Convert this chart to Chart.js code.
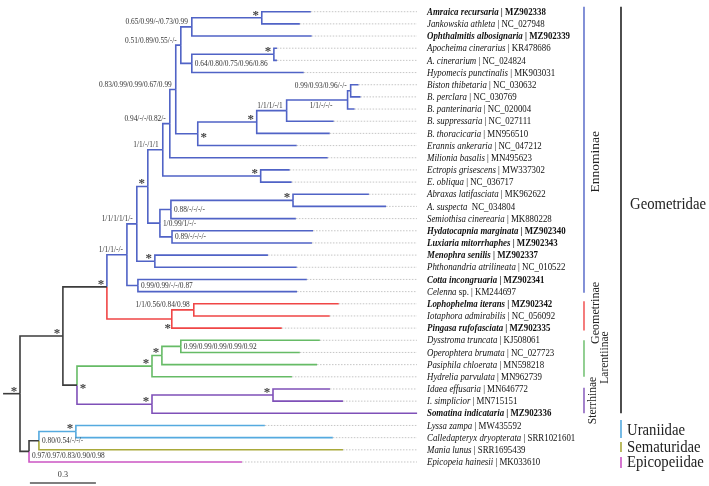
<!DOCTYPE html>
<html><head><meta charset="utf-8">
<script src="https://cdn.jsdelivr.net/npm/chart.js@4/dist/chart.umd.min.js"></script>
<style>html,body{margin:0;padding:0;background:#fff}#wrap{width:709px;height:486px;position:relative}</style>
</head><body><div id="wrap"><canvas id="c"></canvas></div>
<script>
// ---------- DATA ----------
const leafNames = [
  'Amraica recursaria','Jankowskia athleta','Ophthalmitis albosignaria','Apocheima cinerarius',
  'A. cinerarium','Hypomecis punctinalis','Biston thibetaria','B. perclara','B. panterinaria',
  'B. suppressaria','B. thoracicaria','Erannis ankeraria','Milionia basalis','Ectropis grisescens',
  'E. obliqua','Abraxas latifasciata','A. suspecta','Semiothisa cinerearia','Hydatocapnia marginata',
  'Luxiaria mitorrhaphes','Menophra senilis','Phthonandria atrilineata','Cotta incongruaria','Celenna',
  'Lophophelma iterans','Iotaphora admirabilis','Pingasa rufofasciata','Dysstroma truncata',
  'Operophtera brumata','Pasiphila chloerata','Hydrelia parvulata','Idaea effusaria','I. simplicior',
  'Somatina indicataria','Lyssa zampa','Calledapteryx dryopterata','Mania lunus','Epicopeia hainesii'];
const leafTails = [
  ' | MZ902338',' | NC_027948',' | MZ902339',' | KR478686',' | NC_024824',' | MK903031',' | NC_030632',
  ' | NC_030769',' | NC_020004',' | NC_027111',' | MN956510',' | NC_047212',' | MN495623',' | MW337302',
  ' | NC_036717',' | MK962622','  NC_034804',' | MK880228',' | MZ902340',' | MZ902343',' | MZ902337',
  ' | NC_010522',' | MZ902341',' sp. | KM244697',' | MZ902342',' | NC_056092',' | MZ902335',' | KJ508061',
  ' | NC_027723',' | MN598218',' | MN962739',' | MN646772',' | MN715151',' | MZ902336',' | MW435592',
  ' | SRR1021601',' | SRR1695439',' | MK033610'];
const leafBold = [1,0,1,0,0,0,0,0,0,0,0,0,0,0,0,0,0,0,1,1,1,0,1,0,1,0,1,0,0,0,0,0,0,1,0,0,0,0];

// tree with branch lengths (substitutions/site); leaves tK = row K, internal nodes named
const treeNewick =
  "(((((((((" +
  "(((t0:0.223,t1:0.173)namr:0.318,t2:0.545)n192a:0.050,((t3:0.014,t4:0.014)napo:0.373,t5:0.509)n192b:0.050)n181:0.023," +
  "(((((t6:0.036,t7:0.045)n351:0.014,t8:0.032)n348:0.277,t9:0.214)n287:0.136,t10:0.332)n257:0.268,t11:0.450)nbis:0.100" +
  ")n176:0.027,t12:0.718)n170:0.032,(t13:0.132,t14:0.141)nect:0.445)n163:0.068," +
  "(((t15:0.345,t16:0.423)nabr:0.555,t17:0.568)n171:0.050,(t18:0.641,t19:0.636)n172b:0.055)n160:0.055" +
  ")n148:0.050,(t20:0.514,t21:0.645)nmeno:0.082)n137:0.045,(t22:0.768,t23:0.723)ncot:0.050)n127:0.091," +
  "((t24:0.659,t25:0.618)n194:0.100,t26:0.500)n172:0.295)n107:0.200," +
  "((((t27:0.632,t28:0.541)n181g:0.086,t29:0.705)n162:0.045,t30:0.636)n152g:0.341,((t31:0.259,t32:0.318)nida:0.550,t33:1.205)n152p:0.341)n77:0.064" +
  ")n63:0.195," +
  "(((t34:0.859,t35:1.168)n76:0.168,t36:1.382)n39:0.045,t37:0.968)n29:0.041" +
  ")root:0.077;";

const supportNodes = ['namr','n192a','n181','napo','n192b','n176','n351','n348','n287','n257','nbis',
  'n170','n163','nect','n148','nabr','n171','n160','n172b','n137','nmeno','n127','ncot','n107',
  'n194','n172','n63','n77','n181g','n162','n152g','nida','n152p','root','n76','n39','n29'];
const supportTexts = ['*','0.65/0.99/-/0.73/0.99','0.51/0.89/0.55/-/-','*','0.64/0.80/0.75/0.96/0.86',
  '0.83/0.99/0.99/0.67/0.99','0.99/0.93/0.96/-/-','1/1/-/-/-','1/1/1/-/1','*','*',
  '0.94/-/-/0.82/-','1/1/-/1/1','*','*','*','0.88/-/-/-/-','1/0.99/1/-/-','0.89/-/-/-/-',
  '1/1/1/1/1/-','*','1/1/1/-/-','0.99/0.99/-/-/0.87','*',
  '1/1/0.56/0.84/0.98','*','*','*','0.99/0.99/0.99/0.99/0.92','*','*','*','*','*','*',
  '0.80/0.54/-/-/-','0.97/0.97/0.83/0.90/0.98'];

const subfamilyNames = ['Ennominae','Geometrinae','Larentiinae','Sterrhinae'];
const subfamilyFrom = [-0.4, 23.8, 27.0, 30.9];
const subfamilyTo = [23.1, 26.2, 30.0, 33.0];
const familyNames = ['Geometridae','Uraniidae','Sematuridae','Epicopeiidae'];
const familyFrom = [-0.4, 33.55, 35.36, 36.59];
const familyTo = [33.0, 35.03, 36.18, 37.5];
const scaleBarLength = 0.3;

// ---------- STYLE / LAYOUT ----------
const BLACK = '#3c3c3c';
const cladeColor = {n127:'#5063c6', n172:'#f04646', n152g:'#66bb66', n152p:'#7f50b8',
  n76:'#55aadf', t36:'#a9a93a', t37:'#cc55c4'};
const subfamilyColors = ['#5063c6','#f04646','#66bb66','#7f50b8'];
const familyColors = ['#222222','#55aadf','#a9a93a','#cc55c4'];
const placement = {n192b:'r', nbis:'r', n171:'r', n160:'r', n172b:'r', ncot:'r', n77:'r', n181g:'r',
  n39:'r', n29:'r', n348:'lb', n172:'lb'};
const extraOffset = {n348:[-11,0], n29:[0,4]};
const LEADER_END = 1.8045, LABEL_X = 1.85, SUB_BAR_X = 2.5636, FAM_BAR_X = 2.7318;
const SCALE_X0 = 0.045, SCALE_Y = 38.73;
const SERIF = "'Liberation Serif','Times New Roman',serif";

// ---------- BUILD TREE ----------
function parseNewick(s){
  let i = 0;
  function node(){
    const n = {children: []};
    if (s[i] === '('){
      i++; n.children.push(node());
      while (s[i] === ','){ i++; n.children.push(node()); }
      i++;
    }
    let name = '';
    while (i < s.length && !':,);'.includes(s[i])) name += s[i++];
    n.name = name.trim();
    n.len = 0;
    if (s[i] === ':'){ i++; let num=''; while (i < s.length && !',);'.includes(s[i])) num += s[i++]; n.len = parseFloat(num); }
    return n;
  }
  return node();
}
const root = parseNewick(treeNewick);
const nodesById = {};
(function layout(n, x, color){
  n.x = x; n.color = cladeColor[n.name] || color; nodesById[n.name] = n;
  if (n.children.length){
    n.children.forEach(c => layout(c, x + c.len, n.color));
    n.y = (n.children[0].y + n.children[n.children.length-1].y) / 2;
  } else {
    n.y = parseInt(n.name.slice(1), 10);
  }
})(root, 0, BLACK);

const datasets = [];
const leaves = [];
(function collect(n){ if (!n.children.length) leaves.push(n); n.children.forEach(collect); })(root);
// dotted leaders
leaves.forEach(l => {
  if (l.x < LEADER_END) datasets.push({data:[{x:l.x,y:l.y},{x:LEADER_END,y:l.y}], borderColor:'rgba(175,175,175,0.9)',
    borderWidth:0.8, borderDash:[1.5,1.5]});
});
// branches
datasets.push({data:[{x:-root.len,y:root.y},{x:0,y:root.y}], borderColor:BLACK, borderWidth:1.6});
(function branches(n){
  n.children.forEach(c => {
    datasets.push({data:[{x:n.x,y:n.y},{x:n.x,y:c.y},{x:c.x,y:c.y}], borderColor:c.color, borderWidth:1.6});
    branches(c);
  });
})(root);
// clade bars
subfamilyNames.forEach((nm,k) => datasets.push({data:[{x:SUB_BAR_X,y:subfamilyFrom[k]},{x:SUB_BAR_X,y:subfamilyTo[k]}],
  borderColor:subfamilyColors[k], borderWidth:1.4}));
familyNames.forEach((nm,k) => datasets.push({data:[{x:FAM_BAR_X,y:familyFrom[k]},{x:FAM_BAR_X,y:familyTo[k]}],
  borderColor:familyColors[k], borderWidth:1.6}));
// scale bar
datasets.push({data:[{x:SCALE_X0,y:SCALE_Y},{x:SCALE_X0+scaleBarLength,y:SCALE_Y}], borderColor:'#555', borderWidth:1.4});

datasets.forEach(d => Object.assign(d, {showLine:true, pointRadius:0, pointHoverRadius:0, tension:0, fill:false,
  borderCapStyle:'butt', borderJoinStyle:'miter'}));

function txt(ctx, t, x, y, font, color, align, sx){
  ctx.save(); ctx.font = font; ctx.fillStyle = color; ctx.textBaseline = 'middle'; ctx.textAlign = align;
  ctx.translate(x, y); ctx.scale(sx, 1); ctx.fillText(t, 0, 0); ctx.restore();
}

const textPlugin = {
  id: 'treeText',
  afterDatasetsDraw(chart){
    const ctx = chart.ctx, xs = chart.scales.x, ys = chart.scales.y;
    // leaf labels
    const lx = xs.getPixelForValue(LABEL_X), SX = 0.87;
    leafNames.forEach((nm, k) => {
      const y = ys.getPixelForValue(k) + 0.5;
      const b = leafBold[k] ? 'bold ' : '';
      const f1 = 'italic ' + b + '10.2px ' + SERIF, f2 = b + '10.2px ' + SERIF;
      ctx.save(); ctx.font = f1; const w = ctx.measureText(nm).width; ctx.restore();
      txt(ctx, nm, lx, y, f1, '#111', 'left', SX);
      txt(ctx, leafTails[k], lx + w*SX, y, f2, '#111', 'left', SX);
    });
    // supports
    supportNodes.forEach((id, k) => {
      const n = nodesById[id]; if (!n) return;
      const px = xs.getPixelForValue(n.x), py = ys.getPixelForValue(n.y);
      const mode = placement[id] || 'la';
      const off = extraOffset[id] || [0,0];
      const t = supportTexts[k];
      if (t === '*'){
        let sx = px - 6, sy = py - 6;
        if (mode === 'r'){ sx = px + 6; sy = py; }
        if (mode === 'lb'){ sx = px - 4; sy = py + 6; }
        txt(ctx, '*', sx + off[0], sy + 3.5 + off[1], 'bold 13px ' + SERIF, '#444', 'center', 1);
      } else {
        const f = '9px ' + SERIF;
        if (mode === 'r') txt(ctx, t, px + 3 + off[0], py + off[1], f, '#333', 'left', 0.82);
        else if (mode === 'lb') txt(ctx, t, px - 4 + off[0], py + 6 + off[1], f, '#333', 'right', 0.82);
        else txt(ctx, t, px - 4 + off[0], py - 5 + off[1], f, '#333', 'right', 0.82);
      }
    });
    // subfamily labels (rotated)
    const subDx = [11, 12, 21, 9], subDy = [12, -3, -1, 0], subSize = [13.5, 12, 11.5, 11.5];
    subfamilyNames.forEach((nm, k) => {
      const x = xs.getPixelForValue(SUB_BAR_X) + subDx[k];
      const y = ys.getPixelForValue((subfamilyFrom[k] + subfamilyTo[k]) / 2) + subDy[k];
      ctx.save(); ctx.translate(x, y); ctx.rotate(-Math.PI/2);
      ctx.font = subSize[k] + 'px ' + SERIF; ctx.fillStyle = '#222'; ctx.textAlign = 'center'; ctx.textBaseline = 'middle';
      ctx.fillText(nm, 0, 0); ctx.restore();
    });
    // family labels
    const famDx = [9, 6, 6, 6], famDy = [-5, 2, 1, 0];
    familyNames.forEach((nm, k) => {
      const x = xs.getPixelForValue(FAM_BAR_X) + famDx[k];
      const y = ys.getPixelForValue((familyFrom[k] + familyTo[k]) / 2) + famDy[k];
      txt(ctx, nm, x, y, '16px ' + SERIF, '#222', 'left', 0.92);
    });
    // scale label
    const sxp = (xs.getPixelForValue(SCALE_X0) + xs.getPixelForValue(SCALE_X0 + scaleBarLength)) / 2;
    txt(ctx, String(scaleBarLength), sxp, ys.getPixelForValue(SCALE_Y) - 8, '9px ' + SERIF, '#333', 'center', 0.9);
  }
};

new Chart(document.getElementById('c'), {
  type: 'scatter',
  data: {datasets},
  options: {
    responsive: true, maintainAspectRatio: false, animation: false,
    layout: {padding: 0},
    plugins: {legend: {display:false}, tooltip: {enabled:false}},
    events: [],
    scales: {
      x: {type:'linear', display:false, min:-20/220, max:-20/220 + 709/220},
      y: {type:'linear', display:false, reverse:true, min:-11.7/12.17, max:-11.7/12.17 + 486/12.17}
    }
  },
  plugins: [textPlugin]
});
</script>
</body></html>
